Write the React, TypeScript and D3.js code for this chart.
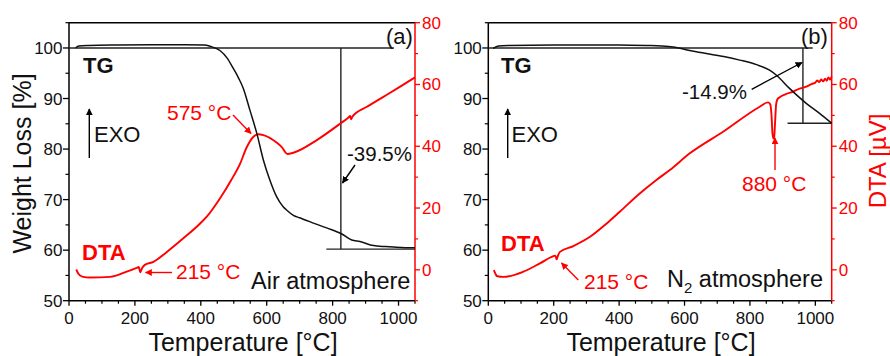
import React from "react";
import * as d3 from "d3";

// ---------- data ----------
const tgAirT = [20, 30, 60, 150, 250, 350, 410, 430, 458, 480, 499, 515, 529, 549, 570, 590, 610, 630, 650, 661, 681, 700, 732, 782, 828, 858, 883, 924, 960, 985, 1020, 1050];
const tgAirW = [100.0, 100.4, 100.5, 100.6, 100.65, 100.65, 100.6, 100.3, 99.5, 98.0, 95.9, 94.0, 92.0, 87.7, 83.1, 77.8, 73.8, 70.6, 68.6, 67.9, 66.9, 66.4, 65.6, 64.4, 63.2, 62.0, 61.7, 60.9, 60.7, 60.6, 60.5, 60.5];

const dtaAirT = [22, 28, 40, 64, 125, 175, 205, 212, 216, 222, 230, 256, 297, 347, 398, 418, 458, 492, 519, 539, 559, 575, 590, 631, 645, 663, 681, 752, 824, 849, 853, 856, 860, 904, 954, 1005, 1050];
const dtaAirV = [0.1, -1.2, -2.2, -2.5, -2.3, -0.6, 0.6, 0.9, -0.8, 0.6, 1.6, 2.6, 5.8, 10.2, 15.0, 17.2, 23.1, 29.0, 34.3, 39.6, 43.0, 43.9, 43.6, 41.1, 39.8, 37.5, 37.9, 42.0, 47.4, 49.4, 49.8, 48.7, 49.6, 52.8, 56.0, 59.3, 62.3];

const tgN2T = [15, 31, 60, 200, 400, 484, 530, 565, 616, 667, 720, 769, 820, 860, 881, 921, 973, 1010, 1050];
const tgN2W = [99.9, 100.4, 100.5, 100.6, 100.6, 100.5, 100.4, 100.2, 99.5, 98.9, 98.3, 97.6, 96.7, 95.6, 94.6, 92.0, 89.0, 87.2, 85.1];

const dtaN2T = [17, 22, 26, 46, 107, 158, 199, 205, 209, 213, 219, 260, 311, 362, 402, 463, 514, 555, 616, 718, 830, 855, 862, 866, 869, 872, 874, 877, 880, 884, 890, 910, 930, 950, 970, 990, 1000, 1005, 1012, 1018, 1024, 1030, 1035, 1040, 1045, 1050];
const dtaN2V = [-0.1, -1.3, -2.0, -2.3, -0.6, 2.1, 4.4, 4.6, 3.4, 4.6, 5.8, 7.7, 10.7, 15.0, 18.8, 24.7, 29.1, 32.3, 37.7, 44.7, 52.8, 54.2, 53.6, 50.0, 44.0, 42.5, 42.9, 48.0, 53.5, 55.2, 55.8, 56.9, 57.6, 58.6, 59.2, 60.2, 60.6, 61.3, 60.8, 61.6, 61.0, 61.9, 61.2, 62.3, 61.6, 62.6];

// x ticks
const xMajor = [0, 200, 400, 600, 800, 1000];
const xMinor = [50, 100, 150, 250, 300, 350, 450, 500, 550, 650, 700, 750, 850, 900, 950, 1050];
const wMajor = [50, 60, 70, 80, 90, 100];
const wMinor = [55, 65, 75, 85, 95, 105];
const dMajor = [0, 20, 40, 60, 80];
const dMinor = [-10, 10, 30, 50, 70];

// annotation step lines (data units)
const airStep = { topEnd: 986, xv: 825, wBottom: 60.2, bottomStart: 781, label: "-39.5%" };
const n2Step = { topEnd: 992, xv: 962, wBottom: 85.1, bottomStart: 915, label: "-14.9%" };

const FONT = "'Liberation Sans', Arial, Helvetica, sans-serif";
const RED = "#ff0000";
const yTop = 22.7;
const yBot = 300.7;

type PanelProps = {
  x0: number;
  x1: number;
  tgT: number[];
  tgW: number[];
  dtT: number[];
  dtV: number[];
  step: typeof airStep;
  children?: React.ReactNode;
};

function Panel({ x0, x1, tgT, tgW, dtT, dtV, step, children }: PanelProps) {
  const x = d3.scaleLinear().domain([0, 1050]).range([x0, x1]);
  const yW = d3.scaleLinear().domain([50, 105]).range([yBot, yTop]);
  const yD = d3.scaleLinear().domain([-10, 80]).range([yBot, yTop]);

  const tgLine = d3
    .line<number>()
    .x((_, i) => x(tgT[i]))
    .y((d) => yW(d))
    .curve(d3.curveMonotoneX);
  const dtLine = d3
    .line<number>()
    .x((_, i) => x(dtT[i]))
    .y((d) => yD(d))
    .curve(d3.curveMonotoneX);

  return (
    <g>
      {/* frame */}
      <line x1={x0} x2={x1} y1={yTop} y2={yTop} stroke="#000" strokeWidth={1.4} />
      <line x1={x0} x2={x0} y1={yTop} y2={yBot} stroke="#000" strokeWidth={1.5} />
      <line x1={x0} x2={x1} y1={yBot} y2={yBot} stroke="#000" strokeWidth={1.5} />
      <line x1={x1} x2={x1} y1={yTop} y2={yBot} stroke={RED} strokeWidth={1.5} />

      {/* x ticks */}
      {xMajor.map((t) => (
        <g key={"xm" + t}>
          <line x1={x(t)} x2={x(t)} y1={yBot} y2={yBot + 5} stroke="#000" strokeWidth={1.3} />
          <text x={x(t)} y={323.5} textAnchor="middle" fontSize={17} fontFamily={FONT} fill="#111">
            {t}
          </text>
        </g>
      ))}
      {xMinor.map((t) => (
        <line key={"xn" + t} x1={x(t)} x2={x(t)} y1={yBot} y2={yBot + 3} stroke="#000" strokeWidth={1.2} />
      ))}

      {/* left y ticks */}
      {wMajor.map((t) => (
        <g key={"wm" + t}>
          <line x1={x0 - 6} x2={x0} y1={yW(t)} y2={yW(t)} stroke="#000" strokeWidth={1.3} />
          <text x={x0 - 6.5} y={yW(t) + 6} textAnchor="end" fontSize={17} fontFamily={FONT} fill="#111">
            {t}
          </text>
        </g>
      ))}
      {wMinor.map((t) => (
        <line key={"wn" + t} x1={x0 - 3.5} x2={x0} y1={yW(t)} y2={yW(t)} stroke="#000" strokeWidth={1.2} />
      ))}

      {/* right y ticks */}
      {dMajor.map((t) => (
        <g key={"dm" + t}>
          <line x1={x1} x2={x1 + 5} y1={yD(t)} y2={yD(t)} stroke={RED} strokeWidth={1.3} />
          <text x={x1 + 7} y={yD(t) + 6} textAnchor="start" fontSize={17} fontFamily={FONT} fill={RED}>
            {t}
          </text>
        </g>
      ))}
      {dMinor.map((t) => (
        <line key={"dn" + t} x1={x1} x2={x1 + 3} y1={yD(t)} y2={yD(t)} stroke={RED} strokeWidth={1.2} />
      ))}

      {/* step annotation lines */}
      <g stroke="#222" strokeWidth={1.4}>
        <line x1={x0} x2={x(step.topEnd)} y1={yW(100)} y2={yW(100)} />
        <line x1={x(step.xv)} x2={x(step.xv)} y1={yW(100)} y2={yW(step.wBottom)} />
        <line x1={x(step.bottomStart)} x2={x1} y1={yW(step.wBottom)} y2={yW(step.wBottom)} />
      </g>

      {/* curves */}
      <path d={dtLine(dtV) || ""} fill="none" stroke={RED} strokeWidth={1.9} strokeLinejoin="round" />
      <path d={tgLine(tgW) || ""} fill="none" stroke="#111" strokeWidth={1.5} strokeLinejoin="round" />

      {children}
    </g>
  );
}

function Arrow({ x1, y1, x2, y2, color, marker }: { x1: number; y1: number; x2: number; y2: number; color: string; marker: string }) {
  return <line x1={x1} y1={y1} x2={x2} y2={y2} stroke={color} strokeWidth={1.4} markerEnd={`url(#${marker})`} />;
}

export default function App() {
  return (
    <svg
      width={890}
      height={356}
      viewBox="0 0 890 356"
      style={{ position: "absolute", left: 0, top: 0, background: "#fff" }}
      fontFamily={FONT}
    >
      <defs>
        <marker id="ahB" viewBox="0 0 10 10" refX="9" refY="5" markerWidth="7" markerHeight="7" markerUnits="userSpaceOnUse" orient="auto">
          <path d="M0,0 L10,5 L0,10 z" fill="#000" />
        </marker>
        <marker id="ahR" viewBox="0 0 10 10" refX="9" refY="5" markerWidth="7" markerHeight="7" markerUnits="userSpaceOnUse" orient="auto">
          <path d="M0,0 L10,5 L0,10 z" fill={RED} />
        </marker>
      </defs>
      <rect x={0} y={0} width={890} height={356} fill="#fff" />

      {/* Left panel */}
      <Panel x0={69} x1={415} tgT={tgAirT} tgW={tgAirW} dtT={dtaAirT} dtV={dtaAirV} step={airStep}>
        <text x={386} y={44} fontSize={22} fill="#111">(a)</text>
        <text x={83} y={73} fontSize={22} fontWeight="bold" fill="#111">TG</text>
        <Arrow x1={89.3} y1={158} x2={89.3} y2={109} color="#000" marker="ahB" />
        <text x={94} y={142} fontSize={22} fill="#111">EXO</text>
        <text x={82} y={259.5} fontSize={22} fontWeight="bold" fill={RED}>DTA</text>
        <text x={167} y={120} fontSize={21} fill={RED}>575 °C</text>
        <Arrow x1={233} y1={115} x2={251} y2={133.5} color={RED} marker="ahR" />
        <text x={176} y={278.5} fontSize={21} fill={RED}>215 °C</text>
        <Arrow x1={172} y1={272.5} x2={145.5} y2={272.5} color={RED} marker="ahR" />
        <text x={347} y={161} fontSize={20.5} fill="#111">-39.5%</text>
        <Arrow x1={355} y1={165} x2={342.5} y2={183} color="#000" marker="ahB" />
        <text x={251} y={288.5} fontSize={23.5} fill="#111">Air atmosphere</text>
        <text x={243} y={351} textAnchor="middle" fontSize={25} fill="#111">Temperature [°C]</text>
        <text transform="translate(31,163.5) rotate(-90)" textAnchor="middle" fontSize={25} fill="#111">Weight Loss [%]</text>
      </Panel>

      {/* Right panel */}
      <Panel x0={488.3} x1={831.7} tgT={tgN2T} tgW={tgN2W} dtT={dtaN2T} dtV={dtaN2V} step={n2Step}>
        <text x={801} y={44} fontSize={22} fill="#111">(b)</text>
        <text x={501} y={73} fontSize={22} fontWeight="bold" fill="#111">TG</text>
        <Arrow x1={507.7} y1={158} x2={507.7} y2={109} color="#000" marker="ahB" />
        <text x={511.5} y={142} fontSize={22} fill="#111">EXO</text>
        <text x={501} y={250.5} fontSize={22} fontWeight="bold" fill={RED}>DTA</text>
        <text x={584} y={288.5} fontSize={21} fill={RED}>215 °C</text>
        <Arrow x1={578.3} y1={280} x2={561.5} y2={263} color={RED} marker="ahR" />
        <text x={682} y={98.5} fontSize={20.5} fill="#111">-14.9%</text>
        <Arrow x1={751.7} y1={89.3} x2={802} y2={62.5} color="#000" marker="ahB" />
        <text x={742} y={190.5} fontSize={21} fill={RED}>880 °C</text>
        <Arrow x1={775} y1={170} x2={775} y2={138} color={RED} marker="ahR" />
        <text x={667} y={287} fontSize={23.5} fill="#111">
          N<tspan fontSize={15} dy={6}>2</tspan>
          <tspan dy={-6}> atmosphere</tspan>
        </text>
        <text x={661} y={351} textAnchor="middle" fontSize={25} fill="#111">Temperature [°C]</text>
        <text transform="translate(886,161) rotate(-90)" textAnchor="middle" fontSize={24} fill={RED}>DTA [µV]</text>
      </Panel>
    </svg>
  );
}
